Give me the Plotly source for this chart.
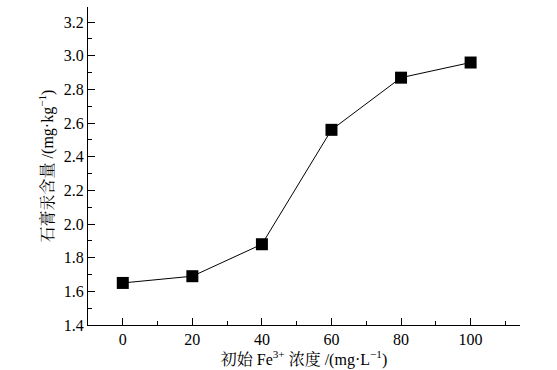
import plotly.graph_objects as go

conc = [0, 20, 40, 60, 80, 100]
mercury = [1.65, 1.69, 1.88, 2.56, 2.87, 2.96]
x_ticks = [0, 20, 40, 60, 80, 100]
y_ticks = [1.4, 1.6, 1.8, 2.0, 2.2, 2.4, 2.6, 2.8, 3.0, 3.2]

font_family = "Liberation Serif, Times New Roman, Noto Serif CJK SC, Noto Sans CJK SC, serif"

fig = go.Figure()
fig.add_trace(go.Scatter(
    x=conc, y=mercury, mode="lines+markers",
    line=dict(color="black", width=1),
    marker=dict(symbol="square", size=12, color="black"),
    showlegend=False,
))

fig.update_layout(
    width=557, height=370,
    margin=dict(l=88, r=37, t=7, b=45, autoexpand=False),
    paper_bgcolor="white", plot_bgcolor="white",
    font=dict(family=font_family, size=16, color="black"),
    xaxis=dict(
        range=[-10, 114.2], tickvals=x_ticks, ticktext=[str(v) for v in x_ticks],
        ticks="inside", ticklen=7, tickwidth=1, tickcolor="black",
        minor=dict(dtick=10, tick0=0, ticks="inside", ticklen=4, tickcolor="black"),
        showline=True, linecolor="black", linewidth=1.3, showgrid=False, zeroline=False,
        automargin=False,
        title=dict(text="初始 Fe<sup>3+</sup> 浓度 /(mg·L<sup>−1</sup>)", standoff=0,
                   font=dict(size=16)),
    ),
    yaxis=dict(
        range=[1.4, 3.29], tickvals=y_ticks, ticktext=[f"{v:.1f}" for v in y_ticks],
        ticks="inside", ticklen=7, tickwidth=1, tickcolor="black",
        minor=dict(dtick=0.1, tick0=1.4, ticks="inside", ticklen=4, tickcolor="black"),
        showline=True, linecolor="black", linewidth=1.3, showgrid=False, zeroline=False,
        automargin=False,
        title=dict(text="石膏汞含量 /(mg·kg<sup>−1</sup>)", standoff=6,
                   font=dict(size=16)),
    ),
)

fig.write_html("out.html", config={"displayModeBar": False},
               post_script="document.body.style.margin='0';")
